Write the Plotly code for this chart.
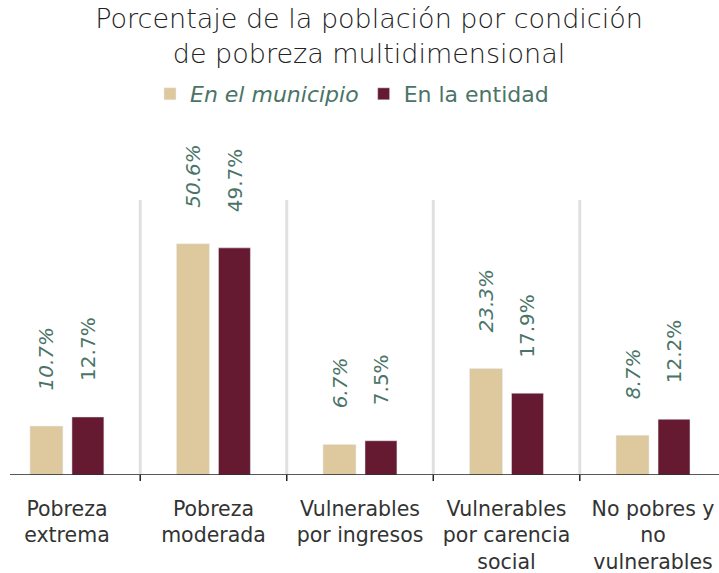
import plotly.graph_objects as go

categories = ["Pobreza<br>extrema", "Pobreza<br>moderada", "Vulnerables<br>por ingresos",
              "Vulnerables<br>por carencia<br>social", "No pobres y<br>no<br>vulnerables"]
municipio = [10.7, 50.6, 6.7, 23.3, 8.7]
entidad = [12.7, 49.7, 7.5, 17.9, 12.2]
series_names = ["<i>En el municipio</i>", "En la entidad"]
title_text = "Porcentaje de la población por condición<br>de pobreza multidimensional"

BEIGE = "#dec89e"
MAROON = "#661a31"
GREEN = "#4a7467"
FONT = "DejaVu Sans"

off_m, w_m = -0.2526, 0.225
off_e, w_e = 0.034, 0.218

fig = go.Figure()
fig.add_trace(go.Bar(x=list(range(len(categories))), y=municipio, name=series_names[0],
                     marker_color=BEIGE, width=w_m, offset=off_m, hoverinfo="skip"))
fig.add_trace(go.Bar(x=list(range(len(categories))), y=entidad, name=series_names[1],
                     marker_color=MAROON, width=w_e, offset=off_e, hoverinfo="skip"))

annotations = []
for i, (m, e) in enumerate(zip(municipio, entidad)):
    annotations.append(dict(x=i + off_m + w_m / 2, y=m, xref="x", yref="y", text=f"<i>{m:.1f}%</i>",
                            textangle=-90, showarrow=False, yanchor="bottom", xanchor="center",
                            yshift=34, font=dict(family=FONT, size=20, color=GREEN)))
    annotations.append(dict(x=i + off_e + w_e / 2, y=e, xref="x", yref="y", text=f"{e:.1f}%",
                            textangle=-90, showarrow=False, yanchor="bottom", xanchor="center",
                            yshift=34, font=dict(family=FONT, size=20, color=GREEN)))

shapes = []
for b in [0.5, 1.5, 2.5, 3.5]:
    shapes.append(dict(type="line", xref="x", yref="y", x0=b, x1=b, y0=0, y1=60.2,
                       line=dict(color="#e0e0e0", width=3), layer="below"))
    shapes.append(dict(type="line", xref="x", yref="paper", x0=b, x1=b, y0=0, y1=-6 / 365,
                       line=dict(color="#222222", width=1.5)))
shapes.append(dict(type="line", xref="paper", yref="y", x0=10 / 719, x1=1, y0=0, y1=0,
                   line=dict(color="#222222", width=1.5)))

fig.update_layout(
    width=719, height=573,
    margin=dict(l=0, r=0, t=110, b=98, autoexpand=False),
    paper_bgcolor="white", plot_bgcolor="white",
    title=dict(text=title_text, x=369 / 719, xanchor="center", y=1 - 27.5 / 573, yanchor="middle",
               yref="container",
               font=dict(family=FONT, size=27, color="#222222", weight=300)),
    legend=dict(orientation="h", x=352 / 719, xanchor="center", y=1 + 16 / 365, yanchor="middle",
                font=dict(family=FONT, size=22, color=GREEN),
                itemwidth=30, traceorder="normal"),
    showlegend=True,
    xaxis=dict(tickmode="array", tickvals=list(range(len(categories))), ticktext=categories,
               range=[-0.457, 4.45], showgrid=False, zeroline=False, showline=False,
               ticks="", tickfont=dict(family=FONT, size=20.5, color="#333333"),
               ticklabelstandoff=19, fixedrange=True, automargin=False),
    yaxis=dict(range=[0, 365 / 4.57], visible=False, fixedrange=True, automargin=False),
    annotations=annotations,
    shapes=shapes,
)

fig.write_html("out.html", config={"displayModeBar": False},
               post_script="document.body.style.margin='0';document.body.style.padding='0';")
